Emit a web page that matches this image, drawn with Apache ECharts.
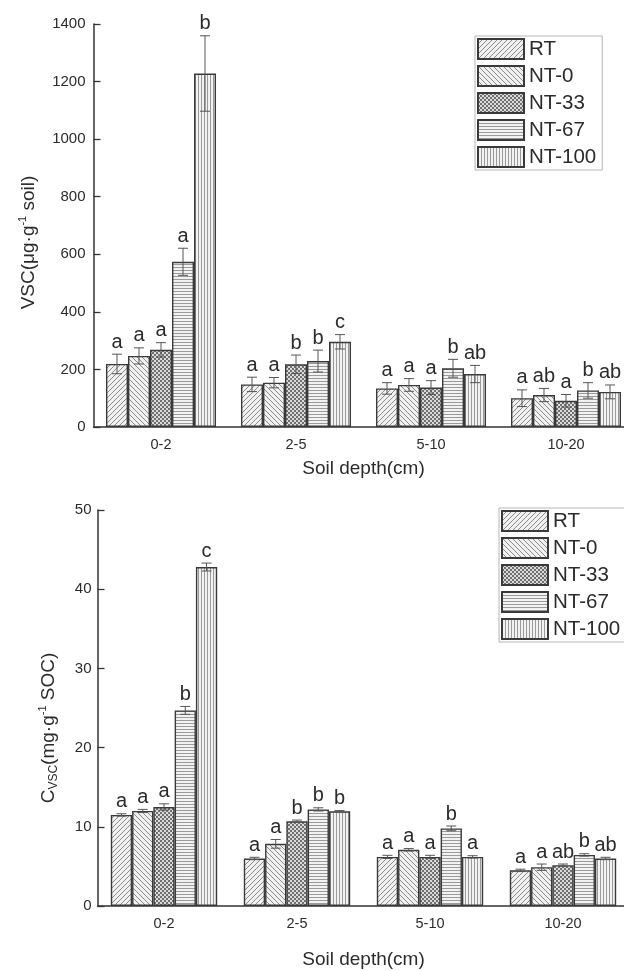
<!DOCTYPE html>
<html>
<head>
<meta charset="utf-8">
<script src="https://cdn.jsdelivr.net/npm/echarts@6/dist/echarts.min.js"></script>
<style>
  html, body { margin: 0; background: #fff; }
  #chart { width: 624px; height: 971px; }
</style>
</head>
<body>
<div id="chart"></div>
<script>
const depths = ['0-2', '2-5', '5-10', '10-20'];
const treatments = ['RT', 'NT-0', 'NT-33', 'NT-67', 'NT-100'];

// VSC (μg g-1 soil): one row per treatment, one column per depth
const vscMean = [
  [219, 148, 134, 100],
  [247, 154, 146, 111],
  [268, 218, 137, 91],
  [574, 229, 204, 127],
  [1228, 296, 184, 122]
];
const vscErr = [
  [34, 25, 20, 29],
  [28, 18, 22, 23],
  [25, 32, 24, 22],
  [47, 38, 31, 27],
  [131, 25, 30, 24]
];
const vscLetters = [
  ['a', 'a', 'a', 'a'],
  ['a', 'a', 'a', 'ab'],
  ['a', 'b', 'a', 'a'],
  ['a', 'b', 'b', 'b'],
  ['b', 'c', 'ab', 'ab']
];

// Cvsc (mg g-1 SOC)
const cvscMean = [
  [11.5, 6.0, 6.2, 4.5],
  [12.0, 7.85, 7.1, 4.9],
  [12.5, 10.7, 6.2, 5.15],
  [24.7, 12.2, 9.8, 6.45],
  [42.8, 11.95, 6.2, 6.0]
];
const cvscErr = [
  [0.15, 0.15, 0.2, 0.15],
  [0.2, 0.55, 0.15, 0.4],
  [0.4, 0.15, 0.2, 0.15],
  [0.5, 0.2, 0.3, 0.15],
  [0.5, 0.1, 0.15, 0.15]
];
const cvscLetters = [
  ['a', 'a', 'a', 'a'],
  ['a', 'a', 'a', 'a'],
  ['a', 'b', 'a', 'ab'],
  ['b', 'b', 'b', 'b'],
  ['c', 'b', 'a', 'ab']
];

const vscTicks = { min: 0, max: 1400, interval: 200 };
const cvscTicks = { min: 0, max: 50, interval: 10 };

const FONT = '"Liberation Sans", Arial, sans-serif';
const TEXT = '#2b2b2b';
const gapFrac = [0.185, 0.2];

// hatch fills drawn on tiny canvases
function makePattern(kind) {
  const c = document.createElement('canvas');
  const g = c.getContext('2d');
  if (kind === 'fwd' || kind === 'back') {
    const s = 5;
    c.width = s; c.height = s;
    g.fillStyle = '#f0f0f0'; g.fillRect(0, 0, s, s);
    g.strokeStyle = '#8c8c8c'; g.lineWidth = 1;
    g.beginPath();
    for (let k = -1; k <= 2; k++) {
      const o = k * s;
      if (kind === 'fwd') { g.moveTo(-1, o + 1); g.lineTo(o + 1, -1); }
      else { g.moveTo(o - 1, -1); g.lineTo(o + s + 1, s + 1); }
    }
    g.stroke();
  } else if (kind === 'dots') {
    c.width = 4; c.height = 4;
    g.fillStyle = '#dadada'; g.fillRect(0, 0, 4, 4);
    g.fillStyle = '#707070';
    g.fillRect(0, 0, 2, 2); g.fillRect(2, 2, 2, 2);
  } else if (kind === 'horiz') {
    c.width = 4; c.height = 3;
    g.fillStyle = '#f2f2f2'; g.fillRect(0, 0, 4, 3);
    g.fillStyle = '#9a9a9a'; g.fillRect(0, 0, 4, 1);
  } else {
    c.width = 3; c.height = 4;
    g.fillStyle = '#f2f2f2'; g.fillRect(0, 0, 3, 4);
    g.fillStyle = '#9a9a9a'; g.fillRect(0, 0, 1, 4);
  }
  return c;
}
const fills = ['fwd', 'back', 'dots', 'horiz', 'vert'].map(makePattern);

function barSeries(gi, means) {
  return treatments.map((name, t) => ({
    name: name,
    type: 'bar',
    xAxisIndex: gi,
    yAxisIndex: gi,
    data: means[t],
    barGap: '0%',
    barCategoryGap: (gapFrac[gi] * 100) + '%',
    itemStyle: {
      color: { image: fills[t], repeat: 'repeat' },
      borderColor: '#3a3a3a',
      borderWidth: 1.4
    },
    emphasis: { disabled: true },
    z: 2
  }));
}

// error bars + significance letters
function errSeries(gi, means, errs, letters) {
  const items = [];
  depths.forEach((_, d) => {
    treatments.forEach((_, t) => items.push([d, means[t][d], errs[t][d], t]));
  });
  return {
    type: 'custom',
    xAxisIndex: gi,
    yAxisIndex: gi,
    silent: true,
    z: 5,
    data: items,
    renderItem(params, api) {
      const d = api.value(0), m = api.value(1), e = api.value(2), t = api.value(3);
      const band = api.size([1, 0])[0];
      const bw = band * (1 - gapFrac[gi]) / treatments.length;
      const x = api.coord([d, m])[0] + (t - (treatments.length - 1) / 2) * bw;
      const yTop = api.coord([d, m + e])[1];
      const yBot = api.coord([d, Math.max(m - e, 0)])[1];
      const cap = 5;
      const st = { stroke: '#555', lineWidth: 1 };
      return {
        type: 'group',
        children: [
          { type: 'line', shape: { x1: x, y1: yTop, x2: x, y2: yBot }, style: st },
          { type: 'line', shape: { x1: x - cap, y1: yTop, x2: x + cap, y2: yTop }, style: st },
          { type: 'line', shape: { x1: x - cap, y1: yBot, x2: x + cap, y2: yBot }, style: st },
          {
            type: 'text',
            style: {
              text: letters[t][d], x: x, y: yTop - 2,
              align: 'center', verticalAlign: 'bottom',
              fontSize: 20, fontFamily: FONT, fill: TEXT
            }
          }
        ]
      };
    }
  };
}

function xAxis(gi, gap) {
  return {
    type: 'category',
    gridIndex: gi,
    data: depths,
    axisLine: { lineStyle: { color: '#333', width: 1.5 } },
    axisTick: { inside: true, alignWithLabel: true, length: 5, lineStyle: { color: '#333', width: 1.5 } },
    axisLabel: { fontSize: 14.5, color: TEXT, fontFamily: FONT, margin: 10 },
    name: 'Soil depth(cm)',
    nameLocation: 'middle',
    nameGap: gap,
    nameTextStyle: { fontSize: 19, color: TEXT, fontFamily: FONT }
  };
}

function yAxis(gi, ticks, name, gap, shift, margin) {
  return {
    type: 'value',
    gridIndex: gi,
    min: ticks.min,
    max: ticks.max,
    interval: ticks.interval,
    splitLine: { show: false },
    axisLine: { show: true, lineStyle: { color: '#333', width: 1.5 } },
    axisTick: { show: true, inside: true, length: 7, lineStyle: { color: '#333', width: 1.3 } },
    axisLabel: { fontSize: 15, color: TEXT, fontFamily: FONT, margin: margin, formatter: v => String(v) },
    name: name,
    nameLocation: 'middle',
    nameRotate: 90,
    nameGap: gap,
    nameTextStyle: {
      color: TEXT,
      fontFamily: FONT,
      padding: [0, shift, 0, 0],
      rich: {
        t: { fontSize: 19, lineHeight: 22, color: TEXT, fontFamily: FONT },
        s: { fontSize: 11, lineHeight: 12, verticalAlign: 'top', color: TEXT, fontFamily: FONT },
        b: { fontSize: 12, lineHeight: 12, verticalAlign: 'bottom', color: TEXT, fontFamily: FONT }
      }
    }
  };
}

function legend(left, top) {
  return {
    data: treatments,
    orient: 'vertical',
    left: left,
    top: top,
    icon: 'rect',
    itemWidth: 46,
    itemHeight: 20,
    itemGap: 5,
    padding: [2, 6, 2, 2],
    borderColor: '#b5b5b5',
    borderWidth: 1,
    selectedMode: false,
    textStyle: { fontSize: 20.5, color: TEXT, fontFamily: FONT }
  };
}

const chart = echarts.init(document.getElementById('chart'));
chart.setOption({
  backgroundColor: '#fff',
  animation: false,
  grid: [
    { left: 93.5, top: 24, width: 540, height: 403, containLabel: false, outerBoundsMode: 'none' },
    { left: 97.5, top: 510, width: 532, height: 396, containLabel: false, outerBoundsMode: 'none' }
  ],
  legend: [legend(475, 36), legend(499, 508)],
  xAxis: [xAxis(0, 32), xAxis(1, 44)],
  yAxis: [
    yAxis(0, vscTicks, '{t|VSC(μg·g}{s|-1}{t| soil)}', 54, 34, 8),
    yAxis(1, cvscTicks, '{t|C}{b|VSC}{t|(mg·g}{s|-1}{t| SOC)}', 38, 40, 6)
  ],
  series: [
    ...barSeries(0, vscMean),
    ...barSeries(1, cvscMean),
    errSeries(0, vscMean, vscErr, vscLetters),
    errSeries(1, cvscMean, cvscErr, cvscLetters)
  ]
});
</script>
</body>
</html>
